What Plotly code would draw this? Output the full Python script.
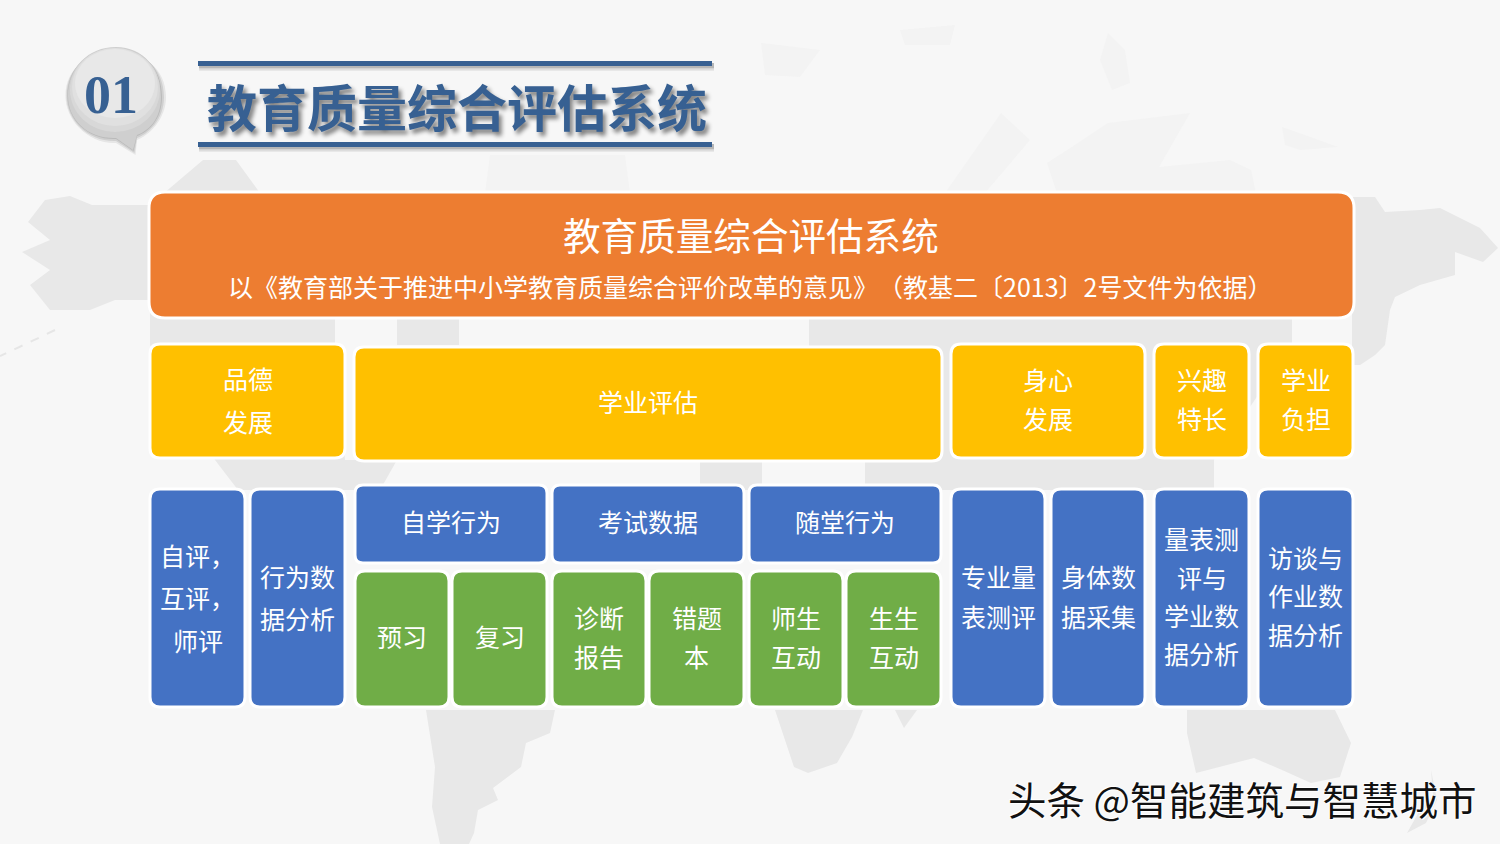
import plotly.graph_objects as go

FONT = "Noto Sans CJK SC"
C_ORANGE, C_GOLD, C_BLUE, C_GREEN, C_NAVY = "#ED7D31", "#FFC000", "#4472C4", "#70AD47", "#376092"

# ---- text content ----
title_text = "教育质量综合评估系统"
badge_text = "01"
banner_title = "教育质量综合评估系统"
banner_sub = "以《教育部关于推进中小学教育质量综合评价改革的意见》\u200b（教基二〔2013〕2号文件为依据）"
watermark = "头条 @智能建筑与智慧城市"
dimension_labels = [["品德", "发展"], ["学业评估"], ["身心", "发展"], ["兴趣", "特长"], ["学业", "负担"]]
group_labels = [["自学行为"], ["考试数据"], ["随堂行为"]]
blue_labels = [["自评，", "互评，", "师评"], ["行为数", "据分析"], ["专业量", "表测评"],
               ["身体数", "据采集"], ["量表测", "评与", "学业数", "据分析"], ["访谈与", "作业数", "据分析"]]
green_labels = [["预习"], ["复习"], ["诊断", "报告"], ["错题", "本"], ["师生", "互动"], ["生生", "互动"]]

# ---- layout geometry (pixels), separate from the content ----
dim_boxes = [(151, 345, 344, 457), (355, 348, 941, 460), (952, 345, 1144, 457), (1155, 345, 1248, 457), (1259, 345, 1352, 457)]
dim_lines = [(380, 423), (403,), (381, 420), (381, 420), (381, 420)]
group_boxes = [(356, 486, 546, 562), (553, 486, 743, 562), (750, 486, 940, 562)]
group_lines = [(523,), (523,), (523,)]
blue_boxes = [(151, 490, 244, 706), (251, 490, 344, 706), (952, 490, 1044, 706),
              (1052, 490, 1144, 706), (1155, 490, 1248, 706), (1259, 490, 1352, 706)]
blue_lines = [(557, 599, 642), (578, 620), (578, 618), (578, 618), (540, 579, 617, 655), (559, 597, 636)]
green_boxes = [(356, 572, 448, 706), (453, 572, 546, 706), (553, 572, 645, 706),
               (650, 572, 743, 706), (750, 572, 842, 706), (847, 572, 940, 706)]
green_lines = [(638,), (638,), (619, 658), (619, 658), (619, 658), (619, 658)]

# silhouettes of the faint world map behind the slide
land_mid = [
    # Alaska + North America
    "M45,200 L70,196 L92,205 L150,205 L203,160 L236,160 L260,193 L335,317 L335,345 L345,460 L397,460 L380,490 L238,490 L215,460 L150,345 L150,300 L115,300 L90,310 L50,310 L30,285 L50,270 L22,252 L50,240 L28,222 Z",
    "M397,317 L459,317 L459,345 L397,345 Z",
    # South America
    "M426,710 L555,710 L550,733 L526,743 L521,767 L493,788 L498,800 L478,810 L474,833 L469,844 L440,844 L432,807 L435,767 Z",
    # Africa + Madagascar
    "M775,710 L863,710 L852,737 L837,763 L808,773 L794,767 Z",
    "M895,710 L917,710 L904,728 Z",
    # Eurasia seen through the gaps
    "M809,317 L1292,317 L1292,345 L1214,460 L1214,490 L865,490 L865,460 L809,345 Z",
    "M700,460 L762,460 L762,490 L700,490 Z",
    "M1357,197 L1375,197 L1385,212 L1420,210 L1440,208 L1480,228 L1498,248 L1483,262 L1455,252 L1455,275 L1420,285 L1395,297 L1390,310 L1385,345 L1375,355 L1360,365 L1352,365 L1352,197 Z",
    # Australia and New Zealand
    "M1187,710 L1335,710 L1351,743 L1340,777 L1311,783 L1282,770 L1254,758 L1196,773 L1187,733 Z",
    "M1431,770 L1437,800 L1426,823 L1407,833 L1420,810 L1433,795 Z",
]
land_faint = [
    "M490,155 L625,155 L630,193 L485,193 Z",
    "M1047,163 L1078,143 L1108,123 L1190,113 L1159,167 L1230,160 L1251,170 L1256,193 L1057,193 Z",
    "M1001,113 L945,193 L985,193 L1030,140 Z",
    "M1282,127 L1305,135 L1338,147 L1300,150 L1285,145 Z",
    "M1108,33 L1125,50 L1130,83 L1112,90 L1100,60 Z",
    "M761,43 L820,50 L800,77 L765,75 Z",
    "M900,30 L955,25 L950,45 L905,45 Z",
]

def rounded(x0, y0, x1, y1, r):
    return (f"M{x0+r},{y0} L{x1-r},{y0} Q{x1},{y0} {x1},{y0+r} L{x1},{y1-r} Q{x1},{y1} {x1-r},{y1} "
            f"L{x0+r},{y1} Q{x0},{y1} {x0},{y1-r} L{x0},{y0+r} Q{x0},{y0} {x0+r},{y0} Z")

shapes, notes = [], []

def add_text(x, y, text, size, color="white", **font):
    notes.append(dict(x=x, y=y - 2, text=text, showarrow=False, xanchor="center", yanchor="middle",
                      font=dict(family=FONT, size=size, color=color, **font)))

def add_boxes(boxes, lines, labels, color, r=10, size=25):
    for (x0, y0, x1, y1), ys, lab in zip(boxes, lines, labels):
        shapes.append(dict(type="path", path=rounded(x0 - 1, y0 - 1, x1 + 1, y1 + 1, r), fillcolor=color,
                           line=dict(color="white", width=3)))
        for y, t in zip(ys, lab):
            add_text((x0 + x1) / 2, y, t, size)

for p in land_faint:
    shapes.append(dict(type="path", path=p, fillcolor="#F3F3F3", line=dict(width=0)))
for p in land_mid:
    shapes.append(dict(type="path", path=p, fillcolor="#E8E8E8", line=dict(width=0)))
# Aleutian chain
shapes.append(dict(type="path", path="M55,330 L30,342 L0,356", line=dict(color="#E6E6E6", width=2, dash="dash")))

# badge: layered speech bubble
for off, col in [(5, "rgba(110,110,110,0.12)"), (3, "rgba(110,110,110,0.18)"), (1, "rgba(110,110,110,0.22)")]:
    shapes.append(dict(type="path",
                       path=f"M116,{47+off} C143,{47+off} {161+off},68 {161+off},97 C{161+off},120 148,{131+off} 137,{135+off} L{133+off/2},{150+off} L116,{138+off} C88,{139+off} {68-off/2},120 {68-off/2},96 C{68-off/2},68 88,{47+off} 116,{47+off} Z",
                       fillcolor=col, line=dict(width=0)))
shapes.append(dict(type="path", path="M116,47 C143,47 161,68 161,97 C161,120 148,131 137,135 L133,150 L116,138 C88,139 68,120 68,96 C68,68 88,47 116,47 Z",
                   fillcolor="#CFCFCF", line=dict(width=0)))
for x0, y0, x1, y1, c in [(70, 48, 160, 132, "#D8D8D8"), (72, 48, 158, 126, "#E0E0E0"), (75, 49, 155, 118, "#E8E8E8")]:
    shapes.append(dict(type="circle", x0=x0, y0=y0, x1=x1, y1=y1, fillcolor=c, line=dict(width=0)))
notes.append(dict(x=111, y=95, text=f"<b>{badge_text}</b>", showarrow=False,
                  font=dict(family="Liberation Serif", size=54, color=C_NAVY)))

# heading rules with soft shadow
for y0, y1 in [(61, 66), (142, 147)]:
    for d, a in [(5, 0.10), (3.5, 0.18), (2, 0.28)]:
        shapes.append(dict(type="rect", x0=199, x1=714, y0=y0 + 2, y1=y1 + d, fillcolor=f"rgba(110,110,110,{a})", line=dict(width=0)))
    shapes.append(dict(type="rect", x0=198, x1=712, y0=y0, y1=y1, fillcolor=C_NAVY, line=dict(width=0)))
add_text(457, 107, f"<b>{title_text}</b>", 50, C_NAVY, shadow="3px 4px 4px #808080")

# banner
shapes.append(dict(type="path", path=rounded(149, 192, 1354, 318, 16), fillcolor=C_ORANGE, line=dict(color="white", width=3)))
add_text(751, 235, banner_title, 37.6)
add_text(750, 288, banner_sub, 25)

add_boxes(dim_boxes, dim_lines, dimension_labels, C_GOLD)
add_boxes(group_boxes, group_lines, group_labels, C_BLUE, r=8)
add_boxes(blue_boxes, blue_lines, blue_labels, C_BLUE)
add_boxes(green_boxes, green_lines, green_labels, C_GREEN)

add_text(1242, 800, watermark, 38.5, "#111111", shadow="1px 1px 0px #FFFFFF, -1px -1px 0px #FFFFFF")

for s in shapes:
    s.setdefault("layer", "above")
    s.update(xref="x", yref="y")

fig = go.Figure()
fig.update_layout(
    width=1500, height=844, margin=dict(l=0, r=0, t=0, b=0),
    paper_bgcolor="#F7F7F7", plot_bgcolor="#F7F7F7", showlegend=False,
    xaxis=dict(range=[0, 1500], visible=False, fixedrange=True),
    yaxis=dict(range=[844, 0], visible=False, fixedrange=True),
    shapes=shapes, annotations=notes,
)
fig.write_html("out.html", config={"displayModeBar": False},
               post_script="document.body.style.margin='0';")
